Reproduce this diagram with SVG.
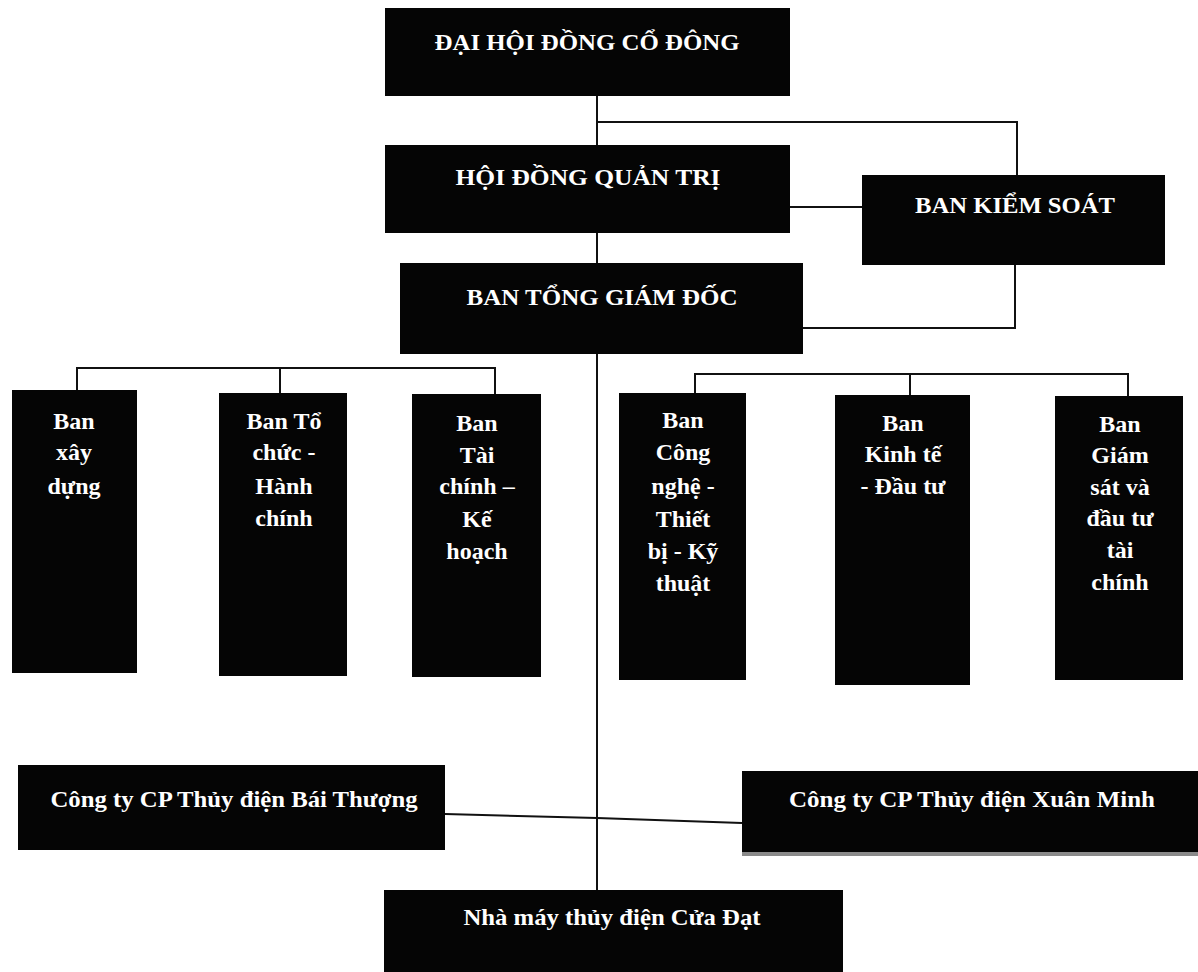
<svg xmlns="http://www.w3.org/2000/svg" width="1198" height="972" viewBox="0 0 1198 972">
<style>
.box{fill:#050505}
.t{fill:#fff;font-family:"Liberation Serif","Times New Roman",serif;font-weight:bold;font-size:24px;text-anchor:middle}
.c{fill:none;stroke:#111;stroke-width:2}
</style>
<rect width="1198" height="972" fill="#fff"/>
<g id="connectors">
<path class="c" d="M597 96V145M597 122H1017V175M790 207H862M597 233V263M803 328H1015V265M597 354V890"/>
<path class="c" d="M77 390V368H495V394M280 368V393"/>
<path class="c" d="M695 393V374H1128V396M910 374V395"/>
<path class="c" d="M445 814L597 818L742 823"/>
</g>
<g id="n-dhdcd"><rect class="box" x="385" y="8" width="405" height="88"/><text class="t" x="587" y="50" textLength="305" lengthAdjust="spacingAndGlyphs">ĐẠI HỘI ĐỒNG CỔ ĐÔNG</text></g>
<g id="n-hdqt"><rect class="box" x="385" y="145" width="405" height="88"/><text class="t" x="588" y="185" textLength="265" lengthAdjust="spacingAndGlyphs">HỘI ĐỒNG QUẢN TRỊ</text></g>
<g id="n-bks"><rect class="box" x="862" y="175" width="303" height="90"/><text class="t" x="1015" y="213" textLength="200" lengthAdjust="spacingAndGlyphs">BAN KIỂM SOÁT</text></g>
<g id="n-btgd"><rect class="box" x="400" y="263" width="403" height="91"/><text class="t" x="602" y="305" textLength="271" lengthAdjust="spacingAndGlyphs">BAN TỔNG GIÁM ĐỐC</text></g>
<g id="n-xd"><rect class="box" x="12" y="390" width="125" height="283"/><text class="t"><tspan x="74" y="429">Ban</tspan><tspan x="74" y="460">xây</tspan><tspan x="74" y="494">dựng</tspan></text></g>
<g id="n-tc"><rect class="box" x="219" y="393" width="128" height="283"/><text class="t"><tspan x="284" y="429">Ban Tổ</tspan><tspan x="284" y="460">chức -</tspan><tspan x="284" y="494">Hành</tspan><tspan x="284" y="526">chính</tspan></text></g>
<g id="n-tckh"><rect class="box" x="412" y="394" width="129" height="283"/><text class="t"><tspan x="477" y="431">Ban</tspan><tspan x="477" y="463">Tài</tspan><tspan x="477" y="494">chính –</tspan><tspan x="477" y="527">Kế</tspan><tspan x="477" y="559">hoạch</tspan></text></g>
<g id="n-cn"><rect class="box" x="619" y="393" width="127" height="287"/><text class="t"><tspan x="683" y="428">Ban</tspan><tspan x="683" y="460">Công</tspan><tspan x="683" y="494">nghệ -</tspan><tspan x="683" y="527">Thiết</tspan><tspan x="683" y="559">bị - Kỹ</tspan><tspan x="683" y="591">thuật</tspan></text></g>
<g id="n-kt"><rect class="box" x="835" y="395" width="135" height="290"/><text class="t"><tspan x="903" y="431">Ban</tspan><tspan x="903" y="462">Kinh tế</tspan><tspan x="903" y="494">- Đầu tư</tspan></text></g>
<g id="n-gs"><rect class="box" x="1055" y="396" width="128" height="284"/><text class="t"><tspan x="1120" y="432">Ban</tspan><tspan x="1120" y="463">Giám</tspan><tspan x="1120" y="495">sát và</tspan><tspan x="1120" y="526">đầu tư</tspan><tspan x="1120" y="558">tài</tspan><tspan x="1120" y="590">chính</tspan></text></g>
<g id="n-bt"><rect class="box" x="18" y="765" width="427" height="85"/><text class="t" x="234" y="807" textLength="367" lengthAdjust="spacingAndGlyphs">Công ty CP Thủy điện Bái Thượng</text></g>
<g id="n-xm"><rect class="box" x="742" y="771" width="456" height="84"/><rect x="742" y="852" width="456" height="4" fill="#8a8a8a"/><text class="t" x="972" y="807" textLength="366" lengthAdjust="spacingAndGlyphs">Công ty CP Thủy điện Xuân Minh</text></g>
<g id="n-cd"><rect class="box" x="384" y="890" width="459" height="82"/><text class="t" x="612" y="925" textLength="297" lengthAdjust="spacingAndGlyphs">Nhà máy thủy điện Cửa Đạt</text></g>
</svg>
